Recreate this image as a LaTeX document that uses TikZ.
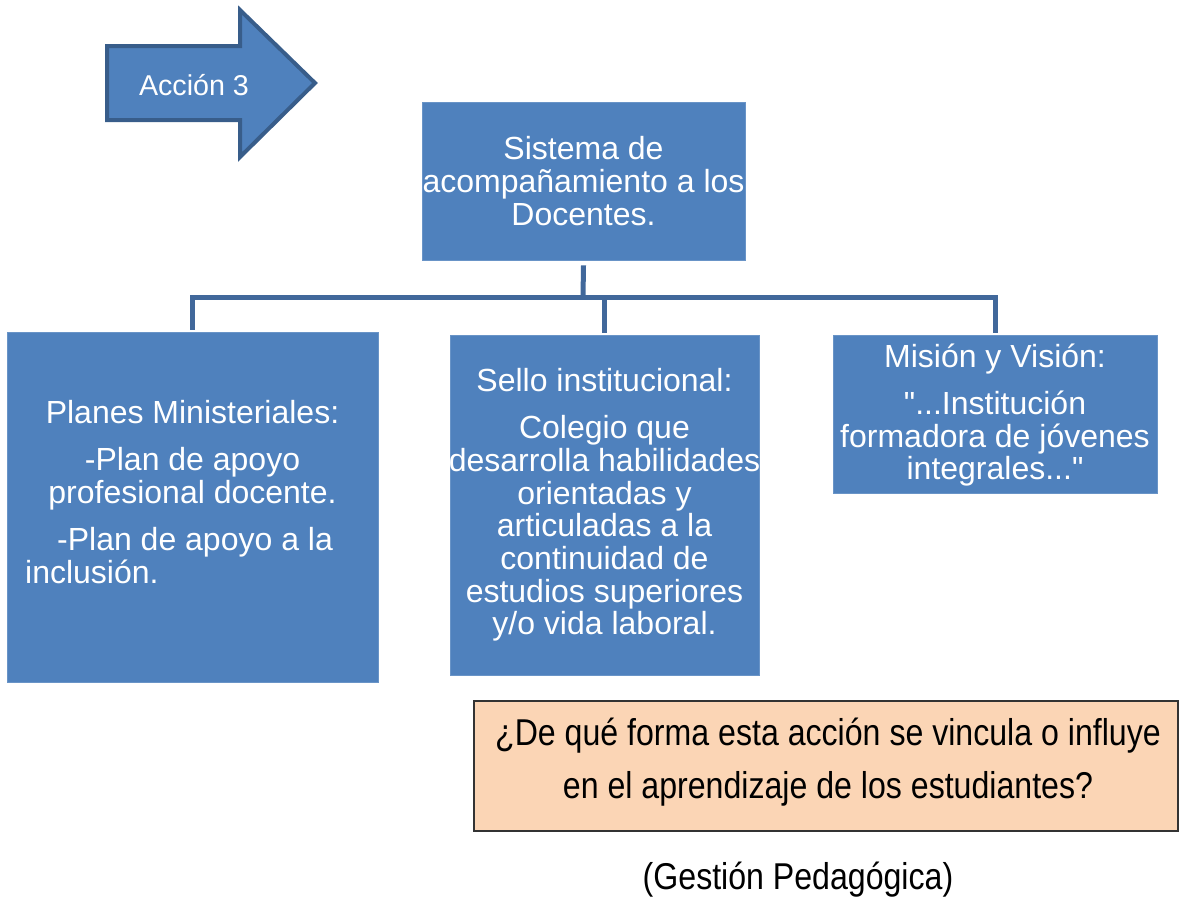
\documentclass[tikz,border=0pt]{standalone}
\usepackage{fontspec}
\setmainfont{Liberation Sans}
\newfontfamily\narrowfont[FakeStretch=0.86]{Liberation Sans}
\newfontfamily\quotefont[Ligatures=ResetAll]{Liberation Sans}
\definecolor{boxblue}{HTML}{4F81BD}
\definecolor{edgeblue}{HTML}{385D8A}
\definecolor{linkblue}{HTML}{41689B}
\definecolor{peach}{HTML}{FBD5B5}
\newcommand{\dq}{{\quotefont"}}
\tikzset{
  bluebox/.style={draw=boxblue!85!white, line width=0.6pt, fill=boxblue, inner sep=0pt},
  boxtext/.style={text=white, font=\fontsize{24}{24.5}\selectfont, align=center, inner sep=0pt},
  conn/.style={draw=linkblue, line width=3.75pt},
}
\begin{document}
\begin{tikzpicture}[x=0.75pt,y=-0.75pt]
\useasboundingbox (0,0) rectangle (1179,897);
% arrow
\draw[fill=boxblue, draw=edgeblue, line width=3pt, line join=miter]
  (107,46) -- (240,46) -- (240,10) -- (315,83) -- (240,157) -- (240,120) -- (107,120) -- cycle;
\node[text=white, font=\fontsize{21.5}{24}\selectfont, inner sep=0pt] (a3) at (194,85) {Acción 3};
% top box
\node[bluebox, minimum width=242.25pt, minimum height=118.5pt] (sis) at (583.5,181) {};
\node[boxtext] (sist) at (583.5,181) {Sistema de\\acompañamiento a los\\Docentes.};
% child boxes
\node[bluebox, minimum width=278.25pt, minimum height=262.5pt] (pm) at (192.5,507) {};
\node[bluebox, minimum width=231.75pt, minimum height=255pt] (si) at (604.5,505) {};
\node[bluebox, minimum width=243pt, minimum height=118.5pt] (mv) at (995,414) {};
% texts
\node[boxtext] (pmt) at (192.5,492) {Planes Ministeriales:\\[11pt]
 -Plan de apoyo\\profesional docente.\\[11pt]
 \makebox[213pt][l]{\hspace{5pt}-Plan de apoyo a la}\\
 \makebox[213pt][l]{\hspace{-19pt}inclusión.}};
\node[boxtext] (sit) at (604.5,505) {Sello institucional:\\[11pt]
 Colegio que\\desarrolla habilidades\\orientadas y\\articuladas a la\\continuidad de\\estudios superiores\\y/o vida laboral.};
\node[boxtext] (mvt) at (995,415) {Misión y Visión:\\[11pt]
 \dq...Institución\\formadora de jóvenes\\integrales...\dq};
% connectors
\coordinate (hub) at (583,297);
\draw[conn] ([yshift=-3.75pt]sis.south) -- (hub);
\draw[conn] ([yshift=1.5pt]pm.north) |- (hub) -| ([yshift=1.5pt]mv.north);
\draw[conn] ([yshift=1.5pt]si.north) -- (si.north |- hub);
% question box
\node[draw=black!80, line width=0.9pt, fill=peach, minimum width=528pt, minimum height=97.5pt, inner sep=0pt] (q) at (826,766) {};
\node[font=\narrowfont\fontsize{28}{40}\selectfont, align=center, inner sep=0pt] (qt) at (828,762) {¿De qué forma esta acción se vincula o influye\\en el aprendizaje de los estudiantes?};
\node[font=\narrowfont\fontsize{28}{30}\selectfont, inner sep=0pt] (gp) at (798,880) {(Gestión Pedagógica)};
\end{tikzpicture}
\end{document}
